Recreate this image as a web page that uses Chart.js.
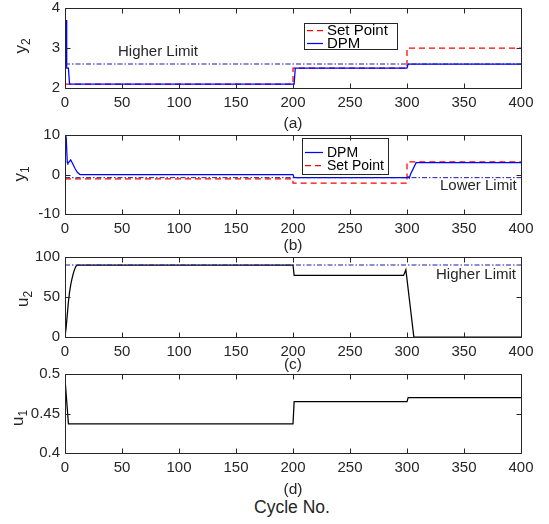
<!DOCTYPE html>
<html>
<head>
<meta charset="utf-8">
<script src="https://cdn.jsdelivr.net/npm/chart.js@4/dist/chart.umd.min.js"></script>
<style>
  html, body { margin: 0; padding: 0; background: #ffffff; }
  #wrap { position: relative; width: 549px; height: 524px; overflow: hidden; background: #ffffff; font-family: 'Liberation Sans', Arial, sans-serif; color: #262626; }
  canvas { position: absolute; left: 0; }
  .txt { position: absolute; white-space: nowrap; line-height: 1; transform: translate(-50%, -50%); font-size: 15.5px; color: #262626; }
  .ltxt { position: absolute; white-space: nowrap; line-height: 1; transform: translate(0, -50%); font-size: 15px; color: #262626; z-index: 5; }
  .ylab { position: absolute; white-space: nowrap; line-height: 1; transform: translate(-50%, -50%) rotate(-90deg); font-size: 17px; color: #262626; }
  .ylab sub { font-size: 12px; vertical-align: -4px; }
</style>
</head>
<body>
<div id="wrap">
  <canvas id="cA" width="549" height="112" style="top:0px"></canvas>
  <canvas id="cB" width="549" height="113" style="top:125px"></canvas>
  <canvas id="cC" width="549" height="114" style="top:247px"></canvas>
  <canvas id="cD" width="549" height="113" style="top:364px"></canvas>

  <div class="ylab" style="left:22px; top:46px;">y<sub>2</sub></div>
  <div class="ylab" style="left:21px; top:174px;">y<sub>1</sub></div>
  <div class="ylab" style="left:24px; top:299px;">u<sub>2</sub></div>
  <div class="ylab" style="left:19px; top:418px;">u<sub>1</sub></div>

  <div class="ltxt" style="left:118px; top:50px;">Higher Limit</div>
  <div class="ltxt" style="left:440px; top:184px;">Lower Limit</div>
  <div class="ltxt" style="left:436px; top:273px;">Higher Limit</div>

  <div class="txt" style="left:293px; top:123px;">(a)</div>
  <div class="txt" style="left:293px; top:245px;">(b)</div>
  <div class="txt" style="left:293px; top:364px;">(c)</div>
  <div class="txt" style="left:293px; top:489px;">(d)</div>
  <div class="txt" style="left:292px; top:508px; font-size:17.5px;">Cycle No.</div>
</div>
<script>
// ---------- shared x axis ----------
const xTicks = [0, 50, 100, 150, 200, 250, 300, 350, 400];

// ---------- panel (a): y2 ----------
const y2Ticks = [2, 3, 4];
const y2SetX = [0, 200, 200, 300, 300, 400];
const y2SetY = [2.1, 2.1, 2.5, 2.5, 3.0, 3.0];
const y2DpmX = [1, 1.5, 3, 4, 201, 202, 300, 301, 400];
const y2DpmY = [3.7, 2.5, 2.5, 2.1, 2.1, 2.5, 2.5, 2.6, 2.6];
const y2LimX = [0, 400];
const y2LimY = [2.6, 2.6];

// ---------- panel (b): y1 ----------
const y1Ticks = [-10, 0, 10];
const y1DpmX = [1, 2, 2.5, 5, 7, 9, 11, 13, 14, 200, 201, 300, 301, 302, 303, 308, 400];
const y1DpmY = [9.7, 3.0, 2.8, 3.7, 2.6, 1.4, 0.5, 0.05, 0, 0, -0.8, -0.8, -0.6, -0.9, 0, 3.0, 3.0];
const y1SetX = [0, 200, 200, 300, 300, 400];
const y1SetY = [-1.1, -1.1, -2.2, -2.2, 3.2, 3.2];
const y1LimX = [0, 400];
const y1LimY = [-0.8, -0.8];

// ---------- panel (c): u2 ----------
const u2Ticks = [0, 50, 100];
const u2X = [0, 1, 2, 3, 4, 5, 6, 7, 8, 9, 10, 11, 200, 201, 297, 299, 306, 400];
const u2Y = [0, 12, 28, 44, 56, 65, 72, 78, 83, 86.5, 89, 90, 90, 77, 77, 84, 0, 0];
const u2LimX = [0, 400];
const u2LimY = [90, 90];

// ---------- panel (d): u1 ----------
const u1Ticks = [0.4, 0.45, 0.5];
const u1X = [0, 3, 200, 201, 300, 301, 400];
const u1Y = [0.494, 0.437, 0.437, 0.465, 0.465, 0.47, 0.47];

// ---------- styling ----------
const AXIS_COLOR = '#262626';
const FONT_FAMILY = "'Liberation Sans', Arial, sans-serif";
const TICK_SIZE = 15;
const RED = '#ff0000';
const BLUE = '#0000ff';
const LIMIT = '#1a1aa8';
const BLACK = '#000000';
const LW = 1.25;
const DASH = [6, 4];
const DASHDOT = [5, 2, 1.5, 2];

function pts(xs, ys) { return xs.map((x, i) => ({ x: x, y: ys[i] })); }

const boxPlugin = {
  id: 'matlabBox',
  afterDatasetsDraw(chart) {
    const { ctx, chartArea: a } = chart;
    const x = chart.scales.x, y = chart.scales.y;
    const L = Math.round(a.left) + 0.5, R = Math.round(a.right) + 0.5;
    const T = Math.round(a.top) + 0.5, B = Math.round(a.bottom) + 0.5;
    const tl = 5;
    ctx.save();
    ctx.strokeStyle = AXIS_COLOR;
    ctx.lineWidth = 1;
    ctx.setLineDash([]);
    ctx.beginPath();
    ctx.moveTo(L, T); ctx.lineTo(R, T); ctx.lineTo(R, B); ctx.lineTo(L, B); ctx.closePath();
    x.ticks.forEach(t => {
      const px = Math.round(x.getPixelForValue(t.value)) + 0.5;
      ctx.moveTo(px, B); ctx.lineTo(px, B - tl);
      ctx.moveTo(px, T); ctx.lineTo(px, T + tl);
    });
    y.ticks.forEach(t => {
      const py = Math.round(y.getPixelForValue(t.value)) + 0.5;
      ctx.moveTo(L, py); ctx.lineTo(L + tl, py);
      ctx.moveTo(R, py); ctx.lineTo(R - tl, py);
    });
    ctx.stroke();
    ctx.restore();
  }
};

function makeLegendPlugin(cfg) {
  return {
    id: 'boxLegend',
    afterDatasetsDraw(chart) {
      if (!cfg) return;
      const ctx = chart.ctx;
      ctx.save();
      ctx.fillStyle = '#ffffff';
      ctx.fillRect(cfg.left, cfg.top, cfg.width, cfg.height);
      ctx.strokeStyle = AXIS_COLOR;
      ctx.lineWidth = 1;
      ctx.setLineDash([]);
      ctx.strokeRect(cfg.left + 0.5, cfg.top + 0.5, cfg.width, cfg.height);
      ctx.font = cfg.fontSize + 'px ' + FONT_FAMILY;
      ctx.textBaseline = 'middle';
      ctx.textAlign = 'left';
      cfg.rows.forEach((r) => {
        const ds = chart.data.datasets[r.index];
        ctx.save();
        ctx.strokeStyle = r.color;
        ctx.lineWidth = LW;
        ctx.setLineDash(r.dash);
        ctx.beginPath();
        ctx.moveTo(cfg.sampleX0, r.y + 0.5);
        ctx.lineTo(cfg.sampleX1, r.y + 0.5);
        ctx.stroke();
        ctx.restore();
        ctx.fillStyle = '#000000';
        ctx.fillText(ds.label, cfg.textX, r.y + 1);
      });
      ctx.restore();
    }
  };
}

function makeChart(id, datasets, yMin, yMax, yTicks, padTop, plotH, canvasH, legendCfg) {
  const xAxisH = canvasH - padTop - plotH;
  return new Chart(document.getElementById(id), {
    type: 'line',
    data: { datasets: datasets },
    options: {
      responsive: false,
      animation: false,
      events: [],
      layout: { padding: { left: 0, right: 28, top: padTop, bottom: 0 } },
      elements: { point: { radius: 0 }, line: { tension: 0 } },
      plugins: {
        legend: { display: false },
        tooltip: { enabled: false }
      },
      scales: {
        x: {
          type: 'linear', min: 0, max: 400,
          grid: { display: false, drawTicks: false },
          border: { display: false },
          ticks: { color: AXIS_COLOR, font: { family: FONT_FAMILY, size: TICK_SIZE }, padding: 6, maxRotation: 0, autoSkip: false, callback: v => String(v) },
          afterBuildTicks: s => { s.ticks = xTicks.map(v => ({ value: v })); },
          afterFit: s => { s.height = xAxisH; s.paddingLeft = 0; s.paddingRight = 0; }
        },
        y: {
          type: 'linear', min: yMin, max: yMax,
          grid: { display: false, drawTicks: false },
          border: { display: false },
          ticks: { color: AXIS_COLOR, font: { family: FONT_FAMILY, size: TICK_SIZE }, padding: 5, autoSkip: false, callback: v => String(v) },
          afterBuildTicks: s => { s.ticks = yTicks.map(v => ({ value: v })); },
          afterFit: s => { s.width = 65; s.paddingTop = 0; s.paddingBottom = 0; }
        }
      }
    },
    plugins: [makeLegendPlugin(legendCfg), boxPlugin]
  });
}

// panel (a)
makeChart('cA', [
  { label: 'Higher Limit', data: pts(y2LimX, y2LimY), borderColor: LIMIT, borderWidth: 1, borderDash: DASHDOT, order: 0 },
  { label: 'DPM', data: pts(y2DpmX, y2DpmY), borderColor: BLUE, borderWidth: LW, order: 1 },
  { label: 'Set Point', data: pts(y2SetX, y2SetY), borderColor: RED, borderWidth: LW, borderDash: DASH, order: 2 }
], 2, 4, y2Ticks, 8, 80, 112, {
  left: 304, top: 23, width: 93, height: 26, fontSize: 15,
  sampleX0: 307, sampleX1: 323, textX: 327,
  rows: [{ index: 2, y: 30, color: RED, dash: DASH }, { index: 1, y: 43, color: BLUE, dash: [] }]
});

// panel (b)
makeChart('cB', [
  { label: 'Lower Limit', data: pts(y1LimX, y1LimY), borderColor: LIMIT, borderWidth: 1, borderDash: DASHDOT, order: 0 },
  { label: 'DPM', data: pts(y1DpmX, y1DpmY), borderColor: BLUE, borderWidth: LW, order: 1 },
  { label: 'Set Point', data: pts(y1SetX, y1SetY), borderColor: RED, borderWidth: LW, borderDash: DASH, order: 2 }
], -10, 10, y1Ticks, 10, 79, 113, {
  left: 302, top: 13, width: 86, height: 36, fontSize: 14,
  sampleX0: 305, sampleX1: 323, textX: 327,
  rows: [{ index: 1, y: 27, color: BLUE, dash: [] }, { index: 2, y: 40, color: RED, dash: DASH }]
});

// panel (c)
makeChart('cC', [
  { label: 'Higher Limit', data: pts(u2LimX, u2LimY), borderColor: LIMIT, borderWidth: 1, borderDash: DASHDOT, order: 0 },
  { label: 'DPM', data: pts(u2X, u2Y), borderColor: BLACK, borderWidth: LW, order: 1 }
], 0, 100, u2Ticks, 10, 80, 114, null);

// panel (d)
makeChart('cD', [
  { label: 'DPM', data: pts(u1X, u1Y), borderColor: BLACK, borderWidth: LW, order: 0 }
], 0.4, 0.5, u1Ticks, 10, 79, 113, null);
</script>
</body>
</html>
